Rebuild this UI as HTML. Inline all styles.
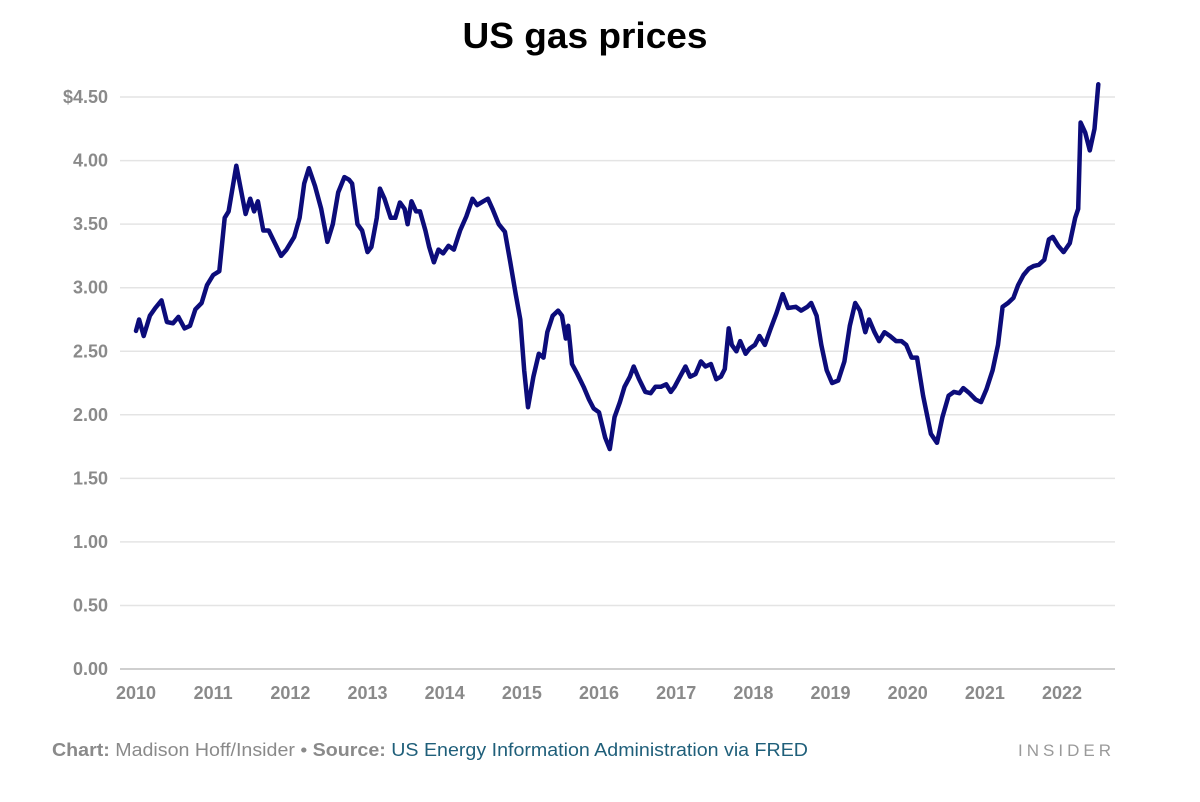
<!DOCTYPE html>
<html><head><meta charset="utf-8"><style>
body{margin:0;background:#fff;width:1200px;height:797px;overflow:hidden;font-family:"Liberation Sans",sans-serif}
</style></head><body>
<svg width="1200" height="797">
<text x="585" y="48" text-anchor="middle" font-size="36" font-weight="bold" fill="#000" textLength="245" lengthAdjust="spacingAndGlyphs">US gas prices</text>
<g id="grid"></g>
<g id="yt"></g>
<g id="xt"></g>
<path id="line" fill="none" stroke="#0c0c7a" stroke-width="4.5" stroke-linejoin="round" stroke-linecap="round"/>
<text x="52" y="756" font-size="18" fill="#8a8a8a" textLength="756" lengthAdjust="spacingAndGlyphs"><tspan font-weight="bold">Chart:</tspan> Madison Hoff/Insider • <tspan font-weight="bold">Source:</tspan> <tspan fill="#1f5f7a">US Energy Information Administration via FRED</tspan></text>
<text x="1115" y="756" text-anchor="end" font-size="17" fill="#9a9a9a" letter-spacing="4">INSIDER</text>
</svg>
<script>
const yTicks=[0,0.5,1,1.5,2,2.5,3,3.5,4,4.5];
const yLabels=["0.00","0.50","1.00","1.50","2.00","2.50","3.00","3.50","4.00","$4.50"];
const xTicks=[2010,2011,2012,2013,2014,2015,2016,2017,2018,2019,2020,2021,2022];
const dates=[2010.00,2010.04,2010.10,2010.18,2010.25,2010.33,2010.40,2010.48,2010.55,2010.63,2010.70,2010.77,2010.85,2010.92,2011.00,2011.08,2011.15,2011.20,2011.30,2011.35,2011.42,2011.48,2011.53,2011.58,2011.65,2011.72,2011.80,2011.88,2011.95,2012.05,2012.12,2012.18,2012.24,2012.32,2012.40,2012.48,2012.55,2012.62,2012.70,2012.76,2012.80,2012.87,2012.93,2013.00,2013.05,2013.12,2013.16,2013.22,2013.30,2013.36,2013.42,2013.48,2013.52,2013.57,2013.63,2013.68,2013.75,2013.80,2013.86,2013.92,2013.98,2014.05,2014.12,2014.20,2014.28,2014.36,2014.42,2014.50,2014.56,2014.62,2014.70,2014.78,2014.85,2014.92,2014.98,2015.03,2015.08,2015.15,2015.22,2015.28,2015.33,2015.40,2015.47,2015.52,2015.57,2015.60,2015.65,2015.72,2015.80,2015.87,2015.93,2016.00,2016.08,2016.14,2016.20,2016.27,2016.33,2016.40,2016.45,2016.52,2016.60,2016.67,2016.73,2016.80,2016.87,2016.93,2016.98,2017.05,2017.12,2017.18,2017.25,2017.32,2017.38,2017.45,2017.52,2017.58,2017.63,2017.68,2017.72,2017.78,2017.83,2017.90,2017.95,2018.02,2018.08,2018.15,2018.22,2018.30,2018.38,2018.45,2018.55,2018.62,2018.70,2018.75,2018.82,2018.88,2018.95,2019.02,2019.10,2019.18,2019.25,2019.32,2019.38,2019.45,2019.50,2019.57,2019.63,2019.70,2019.77,2019.85,2019.92,2019.98,2020.05,2020.12,2020.20,2020.30,2020.38,2020.45,2020.53,2020.60,2020.67,2020.72,2020.80,2020.88,2020.95,2021.02,2021.10,2021.17,2021.23,2021.30,2021.37,2021.43,2021.50,2021.57,2021.63,2021.70,2021.77,2021.83,2021.88,2021.95,2022.02,2022.10,2022.17,2022.21,2022.24,2022.30,2022.36,2022.42,2022.47];
const prices=[2.66,2.75,2.62,2.78,2.84,2.90,2.73,2.72,2.77,2.68,2.70,2.83,2.88,3.02,3.10,3.13,3.55,3.60,3.96,3.80,3.58,3.70,3.60,3.68,3.45,3.45,3.35,3.25,3.30,3.40,3.55,3.82,3.94,3.80,3.62,3.36,3.50,3.75,3.87,3.85,3.82,3.50,3.45,3.28,3.32,3.55,3.78,3.70,3.55,3.55,3.67,3.62,3.50,3.68,3.60,3.60,3.45,3.32,3.20,3.30,3.27,3.33,3.30,3.45,3.56,3.70,3.65,3.68,3.70,3.62,3.50,3.44,3.20,2.95,2.75,2.35,2.06,2.30,2.48,2.45,2.65,2.78,2.82,2.78,2.60,2.70,2.40,2.32,2.22,2.12,2.05,2.02,1.82,1.73,1.98,2.10,2.22,2.30,2.38,2.28,2.18,2.17,2.22,2.22,2.24,2.18,2.22,2.30,2.38,2.30,2.32,2.42,2.38,2.40,2.28,2.30,2.36,2.68,2.55,2.50,2.58,2.48,2.52,2.55,2.62,2.55,2.67,2.80,2.95,2.84,2.85,2.82,2.85,2.88,2.78,2.55,2.35,2.25,2.27,2.42,2.70,2.88,2.82,2.65,2.75,2.65,2.58,2.65,2.62,2.58,2.58,2.55,2.45,2.45,2.15,1.85,1.78,1.98,2.15,2.18,2.17,2.21,2.17,2.12,2.10,2.20,2.35,2.55,2.85,2.88,2.92,3.02,3.10,3.15,3.17,3.18,3.22,3.38,3.40,3.33,3.28,3.35,3.55,3.62,4.30,4.22,4.08,4.25,4.60];
const X=d=>136+(d-2010)*77.17;
const Y=v=>669-v*127.1;
const NS="http://www.w3.org/2000/svg";
const grid=document.getElementById('grid'),yt=document.getElementById('yt'),xt=document.getElementById('xt');
yTicks.forEach((v,i)=>{
  const l=document.createElementNS(NS,'line');
  l.setAttribute('x1',120);l.setAttribute('x2',1115);l.setAttribute('y1',Y(v));l.setAttribute('y2',Y(v));
  l.setAttribute('stroke',v===0?'#cfcfcf':'#e4e4e4');l.setAttribute('stroke-width',v===0?2:1.5);
  
  
  grid.appendChild(l);
  const t=document.createElementNS(NS,'text');
  t.setAttribute('x',108);t.setAttribute('y',Y(v)+6);t.setAttribute('text-anchor','end');
  t.setAttribute('font-size','18');t.setAttribute('font-weight','bold');t.setAttribute('fill','#8a8a8a');
  t.textContent=yLabels[i];
  
  
  yt.appendChild(t);
});
xTicks.forEach(y=>{
  const t=document.createElementNS(NS,'text');
  t.setAttribute('x',X(y));t.setAttribute('y',699);t.setAttribute('text-anchor','middle');
  t.setAttribute('font-size','18');t.setAttribute('font-weight','bold');t.setAttribute('fill','#8a8a8a');
  t.textContent=y;
  
  
  xt.appendChild(t);
});
document.getElementById('line').setAttribute('d',dates.map((d,i)=>(i?'L':'M')+X(d).toFixed(1)+','+Y(prices[i]).toFixed(1)).join(''));
</script>
</body></html>
